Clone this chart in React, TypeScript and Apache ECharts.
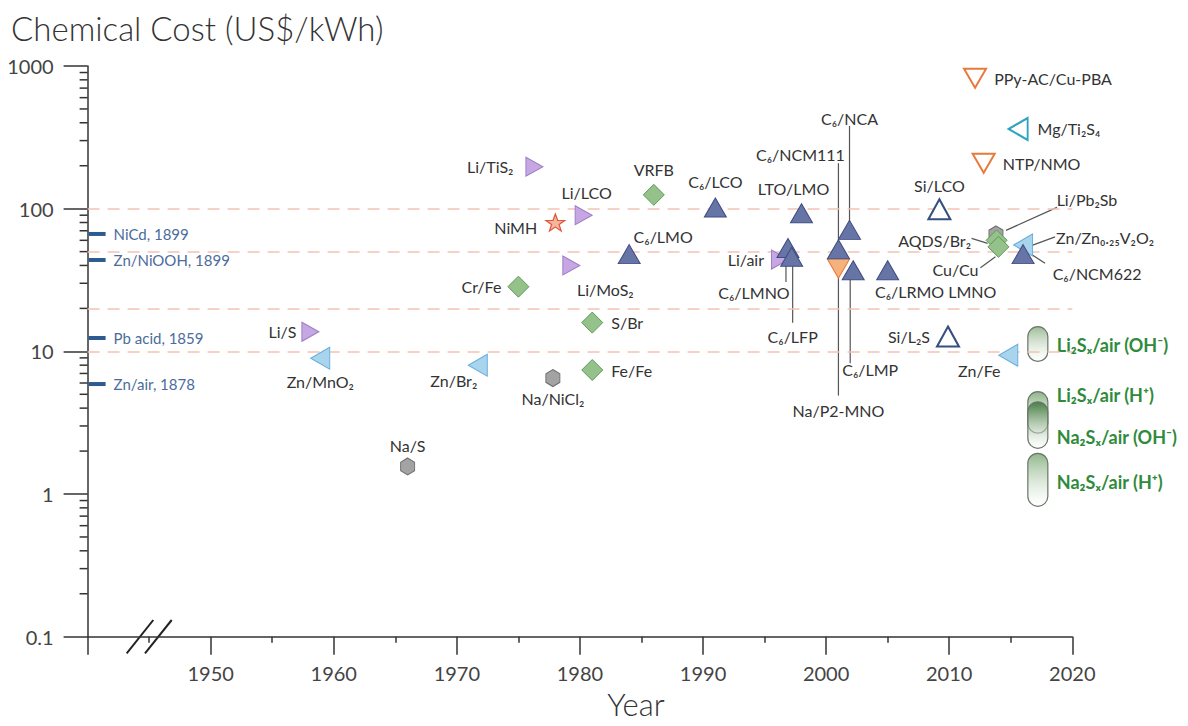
import React, { useEffect, useRef } from "react";
import * as echarts from "echarts";

const FONT = 'Lato, "Noto Sans", "DejaVu Sans", sans-serif';

// ---------- data: [name, year, chemical cost US$/kWh] ----------
const LI_METAL: [string, number, number][] = [
  ["Li/S", 1958.1, 13.7],
  ["Li/TiS₂", 1976.3, 197],
  ["Li/LCO", 1980.3, 90],
  ["Li/MoS₂", 1979.3, 40],
  ["Li/air", 1996.25, 44],
];
const LI_ION: [string, number, number][] = [
  ["C₆/LMO", 1984, 48],
  ["C₆/LCO", 1991, 102],
  ["LTO/LMO", 1998, 93],
  ["C₆/LMNO", 1996.9, 53],
  ["C₆/LFP", 1997.2, 46],
  ["C₆/NCM111", 2001, 52],
  ["C₆/NCA", 2001.9, 71],
  ["C₆/LMP", 2002.2, 37],
  ["C₆/LRMO LMNO", 2005, 37],
  ["C₆/NCM622", 2016, 48],
];
const FLOW: [string, number, number][] = [
  ["Cr/Fe", 1975, 28.4],
  ["S/Br", 1981, 15.9],
  ["Fe/Fe", 1981, 7.4],
  ["VRFB", 1986, 125],
  ["AQDS/Br₂", 2013.85, 60],
  ["Cu/Cu", 2014, 54],
];
const ZINC: [string, number, number][] = [
  ["Zn/MnO₂", 1958.9, 8.95],
  ["Zn/Br₂", 1971.7, 8.0],
  ["Zn/Fe", 2014.8, 9.4],
  ["Zn/Zn₀.₂₅V₂O₂", 2016, 55.7],
];
const HIGH_TEMP: [string, number, number][] = [
  ["Na/S", 1966, 1.56],
  ["Na/NiCl₂", 1977.8, 6.5],
  ["Li/Pb₂Sb", 2013.8, 66],
];
const NIMH: [string, number, number][] = [["NiMH", 1978, 80]];
const AQUEOUS_NA: [string, number, number][] = [
  ["PPy-AC/Cu-PBA", 2012.1, 820],
  ["NTP/NMO", 2012.8, 208],
];
const NA_ION: [string, number, number][] = [["Na/P2-MNO", 2001, 38]];
const MG: [string, number, number][] = [["Mg/Ti₂S₄", 2015.6, 362]];
const SI_ANODE: [string, number, number][] = [
  ["Si/LCO", 2009.2, 99],
  ["Si/L₂S", 2009.9, 12.7],
];

const HISTORIC_NAMES = ["NiCd, 1899", "Zn/NiOOH, 1899", "Pb acid, 1859", "Zn/air, 1878"];
const HISTORIC_COSTS = [66.5, 43.7, 12.4, 5.9];

const PILL_NAMES = ["Li₂Sₓ/air (OH⁻)", "Li₂Sₓ/air (H⁺)", "Na₂Sₓ/air (OH⁻)", "Na₂Sₓ/air (H⁺)"];
const PILL_YEAR = 2017.2;
const PILL_LOW = [8.5, 2.67, 2.09, 0.82];
const PILL_HIGH = [14.9, 5.22, 4.43, 1.93];

const REFERENCE_COSTS = [100, 50, 20, 10];
const Y_MINOR_MULTIPLIERS = [2, 3, 4, 5, 6, 7, 8, 9];
const Y_DECADES = [0.1, 1, 10, 100];

// ---------- styles ----------
const SYM = {
  up: "path://M5,0L10,8.66L0,8.66Z",
  right: "path://M0,0L8.66,5L0,10Z",
  left: "path://M8.66,0L0,5L8.66,10Z",
  down: "path://M0,0L10,0L5,8.66Z",
  hex: "path://M5,0L10,2.9L10,8.7L5,11.6L0,8.7L0,2.9Z",
  star: "path://M10,0L12.35,6.76L19.51,6.91L13.8,11.24L15.88,18.09L10,14L4.12,18.09L6.2,11.24L0.49,6.91L7.65,6.76Z",
};

const LABEL_POS: Record<string, any> = {
  "Li/S": { position: "left", distance: 5 },
  "Li/TiS₂": { position: "left", distance: 12 },
  "Li/LCO": { position: "top", distance: 5, offset: [3, 0] },
  "Li/MoS₂": { position: "inside", offset: [34, 24] },
  "Li/air": { position: "left", distance: 7 },
  "C₆/LMO": { position: "inside", offset: [34, -18] },
  "C₆/LCO": { position: "top", distance: 8 },
  "LTO/LMO": { position: "top", distance: 7, offset: [-8, 0] },
  "C₆/LMNO": { position: "inside", offset: [-34, 44] },
  "C₆/LFP": { position: "inside", offset: [1, 80] },
  "C₆/NCM111": { position: "inside", offset: [-38, -95] },
  "C₆/NCA": { position: "inside", offset: [0, -111] },
  "C₆/LMP": { position: "inside", offset: [17, 99] },
  "C₆/LRMO LMNO": { position: "inside", offset: [48, 21] },
  "C₆/NCM622": { position: "inside", offset: [74, 19] },
  "Cr/Fe": { position: "left", distance: 6 },
  "S/Br": { position: "right", distance: 8 },
  "Fe/Fe": { position: "right", distance: 8 },
  VRFB: { position: "top", distance: 6 },
  "AQDS/Br₂": { position: "inside", offset: [-62, 0] },
  "Cu/Cu": { position: "inside", offset: [-43, 23] },
  "Zn/MnO₂": { position: "bottom", distance: 4 },
  "Zn/Br₂": { position: "inside", offset: [-24, 15] },
  "Zn/Fe": { position: "inside", offset: [-29, 15] },
  "Zn/Zn₀.₂₅V₂O₂": { position: "inside", offset: [82, -7] },
  "Na/S": { position: "top", distance: 4 },
  "Na/NiCl₂": { position: "bottom", distance: 3 },
  "Li/Pb₂Sb": { position: "inside", offset: [91, -35] },
  NiMH: { position: "left", distance: 8, offset: [0, 5] },
  "PPy-AC/Cu-PBA": { position: "right", distance: 7 },
  "NTP/NMO": { position: "right", distance: 7 },
  "Na/P2-MNO": { position: "inside", offset: [0, 142] },
  "Mg/Ti₂S₄": { position: "right", distance: 9 },
  "Si/LCO": { position: "top", distance: 5 },
  "Si/L₂S": { position: "left", distance: 6 },
};

// leader lines: [dx1, dy1, dx2, dy2] in pixels relative to the marker
const LEADERS: Record<string, number[]> = {
  "C₆/LMNO": [-2, 12, -2, 34],
  "C₆/LFP": [1, 8, 1, 66],
  "C₆/NCM111": [0, -86, 0, -9],
  "C₆/NCA": [0, -104, 0, -7],
  "Na/P2-MNO": [0, 4, 0, 127],
  "C₆/LMP": [-3, 7, -3, 93],
  "Li/Pb₂Sb": [61, -27, 10, -4],
  "AQDS/Br₂": [-25, -2, -9, 3],
  "Cu/Cu": [-18, 21, -3, 10],
  "Zn/Zn₀.₂₅V₂O₂": [32, -8, 5, 2],
  "C₆/NCM622": [22, 9, 8, 0],
};

const PILL_TOP = ["#9dbb97", "#8db488", "rgba(62,120,58,0.92)", "#8fb68a"];
const PILL_LABEL_DY = [1, -17, 12, 2];

const ALL_ROWS = [
  ...LI_METAL, ...LI_ION, ...FLOW, ...ZINC, ...HIGH_TEMP, ...NIMH,
  ...AQUEOUS_NA, ...NA_ION, ...MG, ...SI_ANODE,
];

function scatter(rows: [string, number, number][], symbol: string, size: number[], fill: string, stroke: string, lw: number, z: number) {
  return {
    type: "scatter",
    symbol,
    symbolSize: size,
    z,
    data: rows.map(([n, x, y]) => ({ name: n, value: [x, y], label: LABEL_POS[n] || {} })),
    itemStyle: { color: fill, borderColor: stroke, borderWidth: lw, opacity: 1 },
    label: {
      show: true,
      formatter: "{b}",
      fontSize: 16,
      color: "#333",
      fontFamily: FONT,
      textBorderWidth: 0,
    },
    emphasis: { disabled: true },
  };
}

export default function App() {
  const ref = useRef<HTMLDivElement>(null);
  useEffect(() => {
    if (!ref.current) return;
    const chart = echarts.init(ref.current, null, { renderer: "svg" });

    const minorY: number[][] = [];
    Y_DECADES.forEach((d) => Y_MINOR_MULTIPLIERS.forEach((m) => minorY.push([1940, d * m])));

    const option: any = {
      animation: false,
      backgroundColor: "#ffffff",
      title: {
        text: "Chemical Cost (US$/kWh)",
        left: 6,
        top: 6,
        textStyle: { fontSize: 33, fontWeight: 300, color: "#333", fontFamily: FONT },
      },
      grid: { left: 87.6, right: 115.7, top: 66, bottom: 89.3, containLabel: false },
      xAxis: {
        type: "value",
        min: 1940,
        max: 2020,
        interval: 10,
        axisLine: { lineStyle: { color: "#333", width: 1.5 } },
        axisTick: { length: 18, lineStyle: { color: "#333", width: 1.5 } },
        minorTick: { show: true, splitNumber: 2, length: 6, lineStyle: { color: "#333", width: 1.5 } },
        splitLine: { show: false },
        axisLabel: {
          margin: 26,
          fontSize: 20,
          color: "#444",
          fontFamily: FONT,
          formatter: (v: number) => (v === 1940 ? "" : String(v)),
        },
      },
      yAxis: {
        type: "log",
        logBase: 10,
        min: 0.1,
        max: 1000,
        axisLine: { show: true, lineStyle: { color: "#333", width: 1.5 } },
        axisTick: { show: true, length: 24, lineStyle: { color: "#333", width: 1.5 } },
        splitLine: { show: false },
        axisLabel: {
          margin: 34,
          fontSize: 20,
          color: "#444",
          fontFamily: FONT,
          formatter: (v: number) => String(Number(v.toPrecision(3))),
        },
      },
      graphic: [
        {
          type: "text",
          x: 636,
          y: 704,
          style: { text: "Year", fontSize: 31, fontWeight: 300, fontFamily: FONT, fill: "#333", align: "center", verticalAlign: "middle" },
        },
        { type: "line", shape: { x1: 126.7, y1: 653.3, x2: 153.3, y2: 620 }, style: { stroke: "#222", lineWidth: 2 } },
        { type: "line", shape: { x1: 145, y1: 653.3, x2: 171.7, y2: 620 }, style: { stroke: "#222", lineWidth: 2 } },
      ],
      series: [
        {
          type: "scatter",
          data: [],
          z: 1,
          markLine: {
            silent: true,
            symbol: ["none", "none"],
            label: { show: false },
            lineStyle: { type: [12, 8], color: "#f2c4b3", width: 1.5 },
            data: REFERENCE_COSTS.map((v) => ({ yAxis: v })),
          },
        },
        {
          type: "custom",
          z: 2,
          data: minorY,
          renderItem: (_p: any, api: any) => {
            const p = api.coord([api.value(0), api.value(1)]);
            return { type: "line", shape: { x1: p[0] - 8, y1: p[1], x2: p[0], y2: p[1] }, style: { stroke: "#333", lineWidth: 1.5 } };
          },
        },
        {
          type: "custom",
          z: 3,
          data: HISTORIC_COSTS.map((c) => [1940, c]),
          renderItem: (params: any, api: any) => {
            const p = api.coord([api.value(0), api.value(1)]);
            return {
              type: "group",
              children: [
                { type: "line", shape: { x1: p[0] + 1, y1: p[1], x2: p[0] + 18, y2: p[1] }, style: { stroke: "#2b5b90", lineWidth: 4 } },
                {
                  type: "text",
                  x: p[0] + 26,
                  y: p[1],
                  style: { text: HISTORIC_NAMES[params.dataIndex], fill: "#4b6c9c", fontSize: 15, fontFamily: FONT, align: "left", verticalAlign: "middle" },
                },
              ],
            };
          },
        },
        {
          type: "custom",
          z: 2,
          data: Object.keys(LEADERS).map((n) => {
            const r = ALL_ROWS.find((row) => row[0] === n)!;
            return { name: n, value: [r[1], r[2]] };
          }),
          renderItem: (params: any, api: any) => {
            const p = api.coord([api.value(0), api.value(1)]);
            const d = LEADERS[Object.keys(LEADERS)[params.dataIndex]];
            return {
              type: "line",
              shape: { x1: p[0] + d[0], y1: p[1] + d[1], x2: p[0] + d[2], y2: p[1] + d[3] },
              style: { stroke: "#555", lineWidth: 1.2 },
            };
          },
        },
        {
          type: "custom",
          z: 4,
          encode: { x: 0, y: [1, 2] },
          data: PILL_NAMES.map((_n, i) => [PILL_YEAR, PILL_LOW[i], PILL_HIGH[i]]),
          renderItem: (params: any, api: any) => {
            const i = params.dataIndex;
            const top = api.coord([api.value(0), api.value(2)]);
            const bot = api.coord([api.value(0), api.value(1)]);
            const mid = (top[1] + bot[1]) / 2;
            return {
              type: "group",
              children: [
                {
                  type: "rect",
                  shape: { x: top[0] - 10, y: top[1], width: 20, height: bot[1] - top[1], r: 10 },
                  style: {
                    fill: new echarts.graphic.LinearGradient(0, 0, 0, 1, [
                      { offset: 0, color: PILL_TOP[i] },
                      { offset: 1, color: "rgba(255,255,255,0.4)" },
                    ]),
                    stroke: "#6b7569",
                    lineWidth: 1.2,
                  },
                },
                {
                  type: "text",
                  x: top[0] + 19,
                  y: mid + PILL_LABEL_DY[i],
                  style: { text: PILL_NAMES[i], fill: "#2f8a3c", fontSize: 18, fontWeight: "bold", fontFamily: FONT, align: "left", verticalAlign: "middle" },
                },
              ],
            };
          },
        },
        scatter(HIGH_TEMP, SYM.hex, [14, 17], "#a3a3a3", "#6e6e6e", 1, 5),
        scatter(LI_METAL, SYM.right, [17, 19], "#c6a6e3", "#9c7ec4", 1, 6),
        scatter(ZINC, SYM.left, [19, 22], "#a8d4ee", "#67addb", 1, 6),
        scatter(FLOW, "diamond", [21, 21], "#94c28a", "#5e9a58", 1, 7),
        scatter(NA_ION, SYM.down, [22, 19], "#f5b27c", "#e8793a", 1, 7),
        scatter(LI_ION, SYM.up, [22, 19], "#6674a6", "#3f4d80", 1, 8),
        scatter(NIMH, SYM.star, [19, 17], "#f7b49c", "#e0563a", 1.2, 8),
        scatter(AQUEOUS_NA, SYM.down, [22, 19], "#ffffff", "#e8793a", 2, 8),
        scatter(MG, SYM.left, [19, 22], "#ffffff", "#2fa3bf", 2, 8),
        scatter(SI_ANODE, SYM.up, [22, 20], "#ffffff", "#34507e", 2, 8),
      ],
    };
    chart.setOption(option);
    return () => chart.dispose();
  }, []);

  return (
    <div
      ref={ref}
      style={{ position: "fixed", left: 0, top: 0, width: 1188, height: 726, background: "#fff" }}
    />
  );
}
